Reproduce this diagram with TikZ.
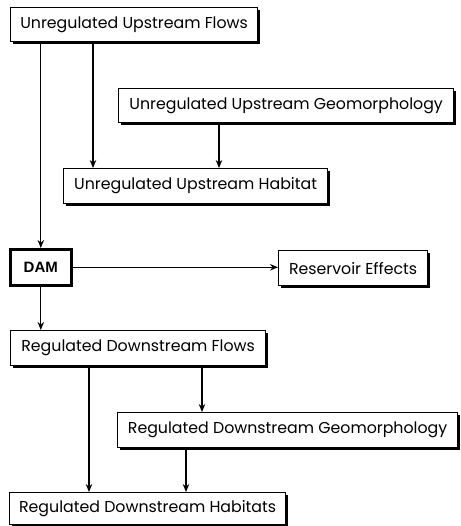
\documentclass[tikz,border=0pt]{standalone}
\usepackage{fontspec}
\setmainfont{Poppins}
\newfontfamily\damfont{Liberation Sans}
\usetikzlibrary{arrows.meta,shadows}
\begin{document}
\begin{tikzpicture}[x=1pt,y=-1pt,
  box/.style={draw=black, line width=1.2pt, fill=white, anchor=north west,
    inner sep=0pt, font=\fontsize{15.8}{18}\selectfont,
    drop shadow={shadow xshift=2pt, shadow yshift=-2pt, fill=black, opacity=1}},
  arr/.style={line width=1.3pt, -{Stealth[length=8pt,width=6.5pt]}}]
\useasboundingbox (0,0) rectangle (460,526);
\node[box, minimum width=247pt, minimum height=34pt] (uf) at (10,7) {Unregulated Upstream Flows};
\node[box, minimum width=335pt, minimum height=34pt] (ug) at (118,88) {Unregulated Upstream Geomorphology};
\node[box, minimum width=264pt, minimum height=35pt] (uh) at (63,168) {Unregulated Upstream Habitat};
\node[box, line width=2.6pt, minimum width=61pt, minimum height=36pt, font=\damfont\bfseries\fontsize{15}{17}\selectfont] (dam) at (9,248) {DAM};
\node[box, minimum width=149pt, minimum height=35pt] (res) at (278,250) {Reservoir Effects};
\node[box, minimum width=255pt, minimum height=35pt] (rf) at (10,330) {Regulated Downstream Flows};
\node[box, minimum width=340pt, minimum height=35pt] (rg) at (117,412) {Regulated Downstream Geomorphology};
\node[box, minimum width=276pt, minimum height=32pt] (rh) at (9,492) {Regulated Downstream Habitats};
% connectors
\draw[arr] (uf.south -| dam.north) -- (dam.north);
\draw[arr] ([xshift=83pt]uf.south west) -- ([xshift=83pt]uf.south west |- uh.north);
\draw[arr] ([xshift=101pt]ug.south west) -- ([xshift=101pt]ug.south west |- uh.north);
\draw[arr] (dam.east) -- (res.west |- dam.east);
\draw[arr] (dam.south) -- (dam.south |- rf.north);
\draw[arr] ([xshift=79pt]rf.south west) -- ([xshift=79pt]rf.south west |- rh.north);
\draw[arr] ([xshift=192pt]rf.south west) -- ([xshift=192pt]rf.south west |- rg.north);
\draw[arr] ([xshift=69pt]rg.south west) -- ([xshift=69pt]rg.south west |- rh.north);
\end{tikzpicture}
\end{document}
